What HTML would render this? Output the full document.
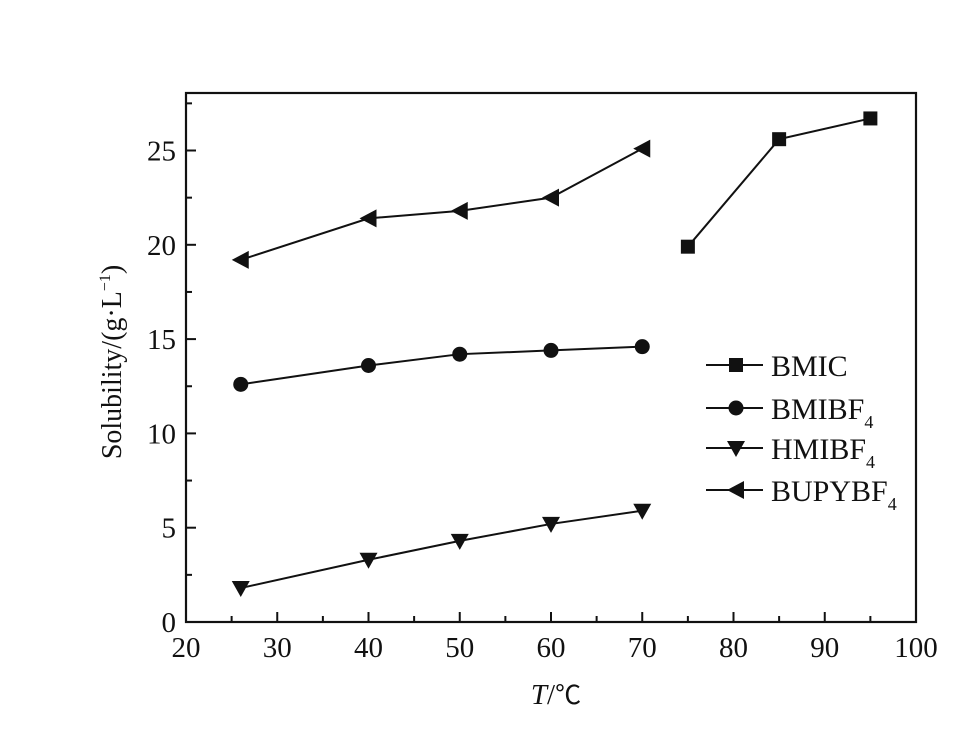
<!DOCTYPE html>
<html><head><meta charset="utf-8"><style>body{margin:0;background:#fff}svg{display:block}text{font-family:"Liberation Serif",serif;fill:#111}</style></head>
<body>
<svg id="c" width="974" height="738" xmlns="http://www.w3.org/2000/svg">
<rect x="186" y="93" width="730" height="529" fill="none" stroke="#111" stroke-width="2.2"/>
<g id="axes"></g><g id="series"></g><g id="legend"></g>
<text x="556" y="704" font-size="29" text-anchor="middle"><tspan font-style="italic">T</tspan>/<tspan font-family="'Noto Sans CJK SC',sans-serif" font-size="26">℃</tspan></text>
<text transform="translate(121,362) rotate(-90)" font-size="28" text-anchor="middle">Solubility/(g·L<tspan font-size="16" dy="-11">−1</tspan><tspan dy="11">)</tspan></text>
</svg>
<script>
const xTicks=[20,30,40,50,60,70,80,90,100];
const yTicks=[0,5,10,15,20,25];
const seriesNames=["BMIC","BMIBF4","HMIBF4","BUPYBF4"];
const bmicX=[75,85,95];
const bmicY=[19.9,25.6,26.7];
const bmibf4X=[26,40,50,60,70];
const bmibf4Y=[12.6,13.6,14.2,14.4,14.6];
const hmibf4X=[26,40,50,60,70];
const hmibf4Y=[1.8,3.3,4.3,5.2,5.9];
const bupyX=[26,40,50,60,70];
const bupyY=[19.2,21.4,21.8,22.5,25.1];
const NS="http://www.w3.org/2000/svg";
const sx=v=>186+(v-20)*730/80;
const sy=v=>622-v*471.5/25;
function mk(tag,parent,attrs){const e=document.createElementNS(NS,tag);for(const k in attrs)e.setAttribute(k,attrs[k]);parent.appendChild(e);return e;}
const axes=document.getElementById('axes');
xTicks.forEach((t,i)=>{
  const l=mk('line',axes,{x1:sx(t),x2:sx(t),y1:622,y2:612,stroke:'#111','stroke-width':2});
  
  
  if(i<xTicks.length-1){const m=mk('line',axes,{x1:sx(t+5),x2:sx(t+5),y1:622,y2:616,stroke:'#111','stroke-width':2});
    
    }
  const tx=mk('text',axes,{x:sx(t),y:657,'font-size':29,'text-anchor':'middle'});tx.textContent=t;
  
  
});
yTicks.forEach(t=>{
  const l=mk('line',axes,{x1:186,x2:196,y1:sy(t),y2:sy(t),stroke:'#111','stroke-width':2});
  
  
  const m=mk('line',axes,{x1:186,x2:192,y1:sy(t+2.5),y2:sy(t+2.5),stroke:'#111','stroke-width':2});
  
  
  const tx=mk('text',axes,{x:176,y:sy(t)+10,'font-size':29,'text-anchor':'end'});tx.textContent=t;
  
  
});
function marker(g,type,x,y){
  let e;
  if(type==='square')e=mk('rect',g,{x:x-7,y:y-7,width:14,height:14,fill:'#111'});
  else if(type==='circle')e=mk('circle',g,{cx:x,cy:y,r:7.5,fill:'#111'});
  else if(type==='down')e=mk('polygon',g,{points:`${x-9},${y-7} ${x+9},${y-7} ${x},${y+9}`,fill:'#111'});
  else e=mk('polygon',g,{points:`${x-9},${y} ${x+8},${y-9} ${x+8},${y+9}`,fill:'#111'});
  return e;
}
const sg=document.getElementById('series');
const defs=[[bmicX,bmicY,'square'],[bmibf4X,bmibf4Y,'circle'],[hmibf4X,hmibf4Y,'down'],[bupyX,bupyY,'left']];
defs.forEach((d,i)=>{
  const g=mk('g',sg,{});
  
  
  const pl=mk('polyline',g,{points:d[0].map((x,j)=>sx(x)+','+sy(d[1][j])).join(' '),fill:'none',stroke:'#111','stroke-width':2});
  
  
  d[0].forEach((x,j)=>{const m=marker(g,d[2],sx(x),sy(d[1][j]));
    
    });
});
const lg=document.getElementById('legend');
const ly=[365,408,448,490];
defs.forEach((d,i)=>{
  const g=mk('g',lg,{});
  
  
  mk('line',g,{x1:706,x2:763,y1:ly[i],y2:ly[i],stroke:'#111','stroke-width':2});
  marker(g,d[2],736,ly[i]);
  const t=mk('text',g,{x:771,y:ly[i]+11,'font-size':30});
  const n=seriesNames[i];
  if(n.endsWith('4')){t.textContent=n.slice(0,-1);const s=mk('tspan',t,{'font-size':18,dy:9});s.textContent='4';}
  else t.textContent=n;
});
</script>
</body></html>
